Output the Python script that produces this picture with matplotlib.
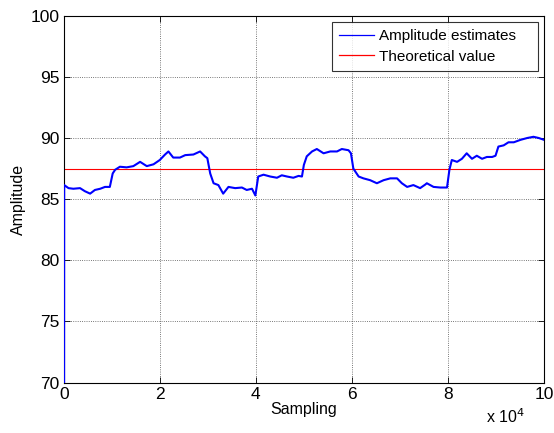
#!/usr/bin/env python3
"""
amplitude_tracking.py

Plot amplitude estimates against the theoretical amplitude
over the sampling axis (x 10^4 samples).
"""

import matplotlib
matplotlib.use("Agg")
import matplotlib.pyplot as plt

# ============================================================
# DATA
# ============================================================

sample_idx = [
    0, 100, 1000, 2000, 3400, 4400, 5500, 6500, 7600, 8600, 9600,
    10200, 10700, 11700, 13100, 14500, 15900, 17300, 18700, 20000,
    21100, 21800, 22800, 24200, 25300, 27000, 28400, 29400, 29900,
    30500, 31200, 32200, 33200, 34300, 35700, 37100, 38100, 39200,
    39900, 40500, 41600, 43000, 44400, 45400, 46500, 47800, 48900,
    49600, 50000, 50600, 51700, 52700, 54100, 55500, 56900, 57900,
    59300, 59800, 60300, 61400, 62400, 63800, 65200, 66600, 68000,
    69400, 70400, 71500, 72800, 74200, 75300, 75600, 77000, 78400,
    79800, 80300, 80800, 81900, 82900, 83900, 85000, 86000, 87100,
    88100, 89200, 89900, 90500, 91600, 92600, 93700, 95100, 96500,
    97800, 98900, 100000,
]

amplitude_est = [
    0.0, 86.15, 85.9, 85.85, 85.9, 85.65, 85.45, 85.75, 85.85, 86.0, 86.0,
    87.1, 87.4, 87.65, 87.6, 87.7, 88.05, 87.7, 87.85, 88.2,
    88.65, 88.9, 88.4, 88.4, 88.6, 88.65, 88.9, 88.5, 88.35,
    87.1, 86.3, 86.15, 85.45, 86.0, 85.9, 85.95, 85.75, 85.85,
    85.3, 86.85, 87.0, 86.85, 86.75, 86.95, 86.85, 86.75, 86.9,
    86.85, 87.8, 88.5, 88.9, 89.1, 88.75, 88.9, 88.9, 89.1,
    89.0, 88.75, 87.5, 86.85, 86.7, 86.55, 86.3, 86.55, 86.7,
    86.7, 86.3, 86.0, 86.15, 85.9, 86.2, 86.3, 86.0, 85.95,
    85.95, 87.4, 88.2, 88.05, 88.3, 88.75, 88.3, 88.55, 88.3,
    88.45, 88.45, 88.55, 89.3, 89.4, 89.65, 89.65, 89.85, 90.0,
    90.1, 90.0, 89.85,
]

theoretical_value = 87.45

x_ticks = [0, 2, 4, 6, 8, 10]
y_ticks = [70, 75, 80, 85, 90, 95, 100]

# ============================================================
# PLOT
# ============================================================

def plot_amplitude():

    plt.rcParams["font.family"] = ["Liberation Sans", "DejaVu Sans"]

    fig = plt.figure(figsize=(5.54, 4.33), dpi=100)

    ax = fig.add_axes([0.115, 0.1166, 0.867, 0.847])

    x = [s / 1e4 for s in sample_idx]

    # drawn above the spines so the start-up jump at x=0 stays visible
    ax.plot(
        x,
        amplitude_est,
        color="b",
        linewidth=1.5,
        label="Amplitude estimates",
        zorder=3
    )

    ax.axhline(
        theoretical_value,
        color="r",
        linewidth=0.8,
        label="Theoretical value"
    )

    ax.set_xlim(0, 10)
    ax.set_ylim(70, 100)

    ax.set_xticks(x_ticks)
    ax.set_yticks(y_ticks)

    ax.tick_params(
        direction="in",
        top=True,
        right=True,
        length=4,
        width=0.6,
        labelsize=12.5,
        pad=3
    )

    ax.grid(
        True,
        color="black",
        linestyle=":",
        linewidth=0.6,
        alpha=0.7
    )

    for spine in ax.spines.values():
        spine.set_linewidth(0.8)

    ax.set_xlabel("Sampling", fontsize=11.5, labelpad=0)
    ax.set_ylabel("Amplitude", fontsize=11.5, labelpad=3)

    fig.text(
        0.878,
        0.022,
        r"x 10$^{4}$",
        fontsize=11.5
    )

    # legend box stretched over a fixed width in the upper right corner
    leg = ax.legend(
        loc="upper left",
        bbox_to_anchor=(0.5586, 0.852, 0.4289, 0.131),
        mode="expand",
        borderaxespad=0,
        fontsize=11,
        frameon=True,
        fancybox=False,
        handlelength=2.3,
        handletextpad=0.35,
        borderpad=0.45,
        labelspacing=0.45
    )

    leg.get_frame().set_edgecolor("black")
    leg.get_frame().set_linewidth(0.8)

    for handle in leg.get_lines():
        handle.set_linewidth(0.9)

    fig.savefig("out.png", dpi=100)

    plt.close(fig)


if __name__ == "__main__":
    plot_amplitude()
